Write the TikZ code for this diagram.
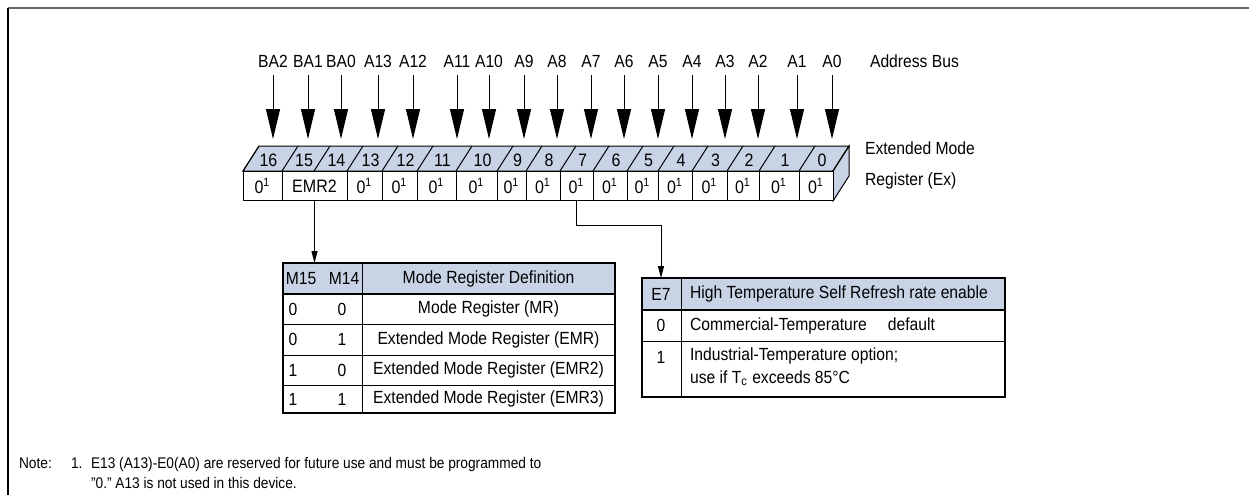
\documentclass[tikz,border=0pt]{standalone}
\usepackage{fontspec}
\setmainfont{Liberation Sans}[FakeStretch=0.89]
\usepackage{xcolor}
\usetikzlibrary{arrows.meta}
\definecolor{regblue}{RGB}{200,212,230}
\tikzset{
  cell/.style={draw,fill=white,minimum height=14.5pt,inner sep=0pt,line width=0.5pt,font=\fontsize{9}{10}\selectfont},
  bus/.style={-{Triangle[length=15pt,width=7pt]},line width=0.5pt},
  link/.style={-{Triangle[length=6pt,width=3pt]},line width=0.5pt},
  tbl/.style={line width=0.8pt},
  notetext/.style={anchor=base west,font=\fontsize{7.7}{9}\selectfont},
}

\begin{document}
\begin{tikzpicture}[x=0.5pt,y=-0.5pt,font=\fontsize{8.8}{10}\selectfont]
\useasboundingbox (0,0) rectangle (1249,495);
\draw[line width=1pt,black!60] (1249,8) -- (8,8);
\draw[line width=0.6pt] (8,8) -- (8,495);

% address bus
\foreach \x/\t in {273/BA2,308/BA1,341/BA0,378/A13,413/A12,457/A11,489/A10,524/A9,557/A8,591/A7,624/A6,658/A5,692/A4,725/A3,758/A2,797/A1,832/A0}
  {\node[anchor=base] (a\t) at (\x,67) {\t};
   \draw[bus] (a\t.base) ++(0,8) -- ++(0,64);}
\node[anchor=base west] (bus) at (863,67) {Address Bus};

% register
\filldraw[fill=regblue,line width=0.5pt] (243,171) -- (259,146) -- (849,146) -- (833,171) -- cycle;
\filldraw[fill=regblue,line width=0.5pt] (833,171) -- (849,146) -- (849,176) -- (833,201) -- cycle;
\foreach \xa/\xb/\n in {243/282/16,347/382/13,382/417/12,417/456/11,456/497/10,497/526/9,526/560/8,560/593/7,593/627/6,627/658/5,658/692/4,692/727/3,727/759/2,759/799/1,799/833/0}
  \node[cell,minimum width={(\xb-\xa)*0.5pt}] (r\n) at ({(\xa+\xb)/2},186) {0\textsuperscript{1}};
\node[cell,minimum width=32.5pt] (r15) at (314.5,186) {EMR2};
\foreach \x in {243,282,314,347,382,417,456,497,526,560,593,627,658,692,727,759,799,833}
  \draw[line width=0.5pt] (\x,171) -- ++(16,-25);
\foreach \xa/\xb/\n in {243/282/16,282/314/15,314/347/14,347/382/13,382/417/12,417/456/11,456/497/10,497/526/9,526/560/8,560/593/7,593/627/6,627/658/5,658/692/4,692/727/3,727/759/2,759/799/1,799/833/0}
  \node[font=\fontsize{9}{10}\selectfont] (t\n) at ({(\xa+\xb)/2+6},160) {\n};
\node[anchor=west] (ext) at (858,148) {Extended Mode};
\node[anchor=west] (exr) at (858,181) {Register (Ex)};

% mode register table
\coordinate (mt) at (314.5,263);
\filldraw[fill=regblue,tbl] (283,263) rectangle (615,294);
\draw[tbl] (283,263) rectangle (615,413);
\foreach \y in {324,355,385} \draw[line width=0.4pt] (283,\y) -- (615,\y);
\draw[line width=0.4pt] (362,263) -- (362,413);
\node (m15) at (301,278.5) {M15};
\node (m14) at (344,278.5) {M14};
\node (mdef) at (488.5,278.5) {Mode Register Definition};
\foreach \y/\a/\b/\t [count=\i] in {309/0/0/Mode Register (MR),339.5/0/1/Extended Mode Register (EMR),370/1/0/Extended Mode Register (EMR2),399/1/1/Extended Mode Register (EMR3)}
  {\node (ma\i) at (293,\y) {\a};
   \node (mb\i) at (342,\y) {\b};
   \node (md\i) at (488.5,\y) {\t};}
\draw[link] (r15.south) -- (mt);

% E7 table
\coordinate (et) at (661,278);
\filldraw[fill=regblue,tbl] (642,278) rectangle (1005,310);
\draw[tbl] (642,278) rectangle (1005,397);
\draw[line width=0.4pt] (642,341) -- (1005,341);
\draw[line width=0.4pt] (681,278) -- (681,397);
\node (e7) at (661,294) {E7};
\node[anchor=west] (eh) at (683,294) {High Temperature Self Refresh rate enable};
\node (e0) at (661,325.5) {0};
\node[anchor=west] (ec) at (683,325.5) {Commercial-Temperature\hspace{1.2em}default};
\node (e1) at (661,357) {1};
\node[anchor=west,align=left,font=\fontsize{8.8}{11.5}\selectfont] (ei) at (683,367) {Industrial-Temperature option;\\use if T\textsubscript{c} exceeds 85°C};
\draw[link] (r7.south) -- ++(0,24) -| (et);

% note
\node[notetext] (note) at (12,468) {Note:};
\node[notetext] (nn) at (64,468) {1.};
\node[notetext] (nt1) at (84,468) {E13 (A13)-E0(A0) are reserved for future use and must be programmed to};
\node[notetext] (nt2) at (84,488) {"0." A13 is not used in this device.};
\end{tikzpicture}
\end{document}
